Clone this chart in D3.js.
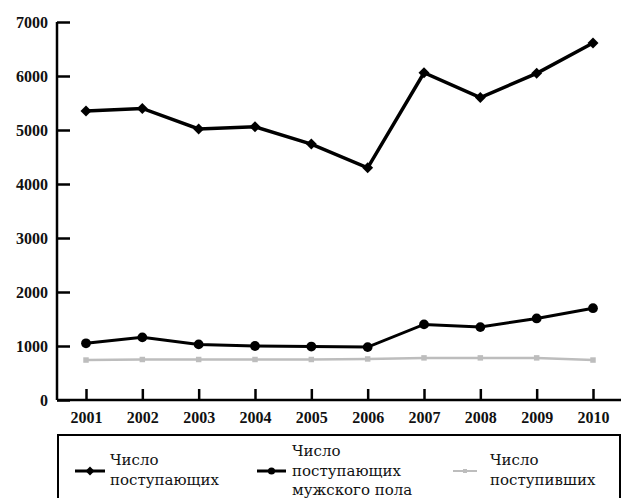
<!DOCTYPE html>
<html>
<head>
<meta charset="utf-8">
<script src="https://cdn.jsdelivr.net/npm/d3@7"></script>
<style>
  body { margin: 0; background: #fff; }
</style>
</head>
<body>
<div id="chart"></div>
<script>
// Data
var years = [2001, 2002, 2003, 2004, 2005, 2006, 2007, 2008, 2009, 2010];
var applicants = [5350, 5400, 5020, 5060, 4740, 4300, 6060, 5600, 6050, 6610];
var maleApplicants = [1050, 1160, 1030, 1000, 990, 980, 1400, 1350, 1510, 1700];
var admitted = [740, 750, 750, 750, 750, 760, 780, 780, 780, 740];
var yTicks = [0, 1000, 2000, 3000, 4000, 5000, 6000, 7000];

var tickFont = "'Liberation Serif', 'DejaVu Serif', serif";
var legendFont = "'DejaVu Serif', serif";

var svgWidth = 621, svgHeight = 498;
var svg = d3.select("#chart")
  .append("svg")
    .attr("width", svgWidth)
    .attr("height", svgHeight);

// Scales
var x = d3.scalePoint()
  .domain(years)
  .range([86, 593]);
var y = d3.scaleLinear()
  .domain([0, 7000])
  .range([400, 22]);

// Y axis, ticks pointing inward
var yAxis = svg.append("g")
  .attr("transform", "translate(57,0)")
  .call(d3.axisRight(y).tickValues(yTicks).tickSize(13).tickFormat(d3.format("d")))
  .attr("font-family", tickFont);
yAxis.select(".domain").attr("stroke-width", 2.5).attr("d", "M0," + y(7000) + "V" + y(0));
yAxis.selectAll(".tick line").attr("stroke-width", 2.5);
yAxis.selectAll(".tick text")
  .attr("x", -9)
  .attr("text-anchor", "end")
  .attr("font-size", 16)
  .attr("font-weight", "bold")
  .attr("fill", "#111");

// X axis, ticks pointing up
var xAxis = svg.append("g")
  .attr("transform", "translate(0,400)")
  .call(d3.axisTop(x).tickSize(11))
  .attr("font-family", tickFont);
xAxis.select(".domain").attr("stroke-width", 2.5).attr("d", "M57,0H621");
xAxis.selectAll(".tick line").attr("stroke-width", 2.5);
xAxis.selectAll(".tick text")
  .attr("y", 17)
  .attr("dy", "0.35em")
  .attr("font-size", 16)
  .attr("font-weight", "bold")
  .attr("fill", "#111");

var line = d3.line()
  .x((d, i) => x(years[i]))
  .y(d => y(d));

// rotated square for the diamond marker
var diamond = {
  draw: function (ctx, size) {
    var r = Math.sqrt(size / 2);
    ctx.moveTo(0, -r); ctx.lineTo(r, 0); ctx.lineTo(0, r); ctx.lineTo(-r, 0); ctx.closePath();
  }
};

// Series
var series = [
  { values: admitted, color: "#bdbdbd", width: 2.5, symbol: d3.symbolSquare, size: 30 },
  { values: maleApplicants, color: "#000", width: 3, symbol: d3.symbolCircle, size: 75 },
  { values: applicants, color: "#000", width: 3.5, symbol: diamond, size: 60 }
];

series.forEach(function (s) {
  svg.append("path")
    .attr("fill", "none")
    .attr("stroke", s.color)
    .attr("stroke-width", s.width)
    .attr("d", line(s.values));
  svg.append("g")
    .selectAll("path")
    .data(s.values)
    .join("path")
      .attr("transform", (d, i) => "translate(" + x(years[i]) + "," + y(d) + ")")
      .attr("d", d3.symbol().type(s.symbol).size(s.size))
      .attr("fill", s.color);
});

// Legend
svg.append("rect")
  .attr("x", 58)
  .attr("y", 435)
  .attr("width", 562)
  .attr("height", 100)
  .attr("fill", "none")
  .attr("stroke", "#000")
  .attr("stroke-width", 2);

var legendItems = [
  { lines: ["Число", "поступающих"], x1: 75, x2: 105, tx: 110, ty: 460, color: "#000", symbol: diamond, size: 40, width: 3 },
  { lines: ["Число", "поступающих", "мужского пола"], x1: 257, x2: 286, tx: 292, ty: 451, color: "#000", symbol: d3.symbolCircle, size: 40, width: 3 },
  { lines: ["Число", "поступивших"], x1: 453, x2: 477, tx: 490, ty: 460, color: "#bdbdbd", symbol: d3.symbolSquare, size: 16, width: 2 }
];

legendItems.forEach(function (item) {
  var g = svg.append("g").attr("font-family", legendFont);
  g.append("line")
    .attr("x1", item.x1).attr("x2", item.x2)
    .attr("y1", 471).attr("y2", 471)
    .attr("stroke", item.color)
    .attr("stroke-width", item.width);
  g.append("path")
    .attr("transform", "translate(" + (item.x1 + item.x2) / 2 + ",471)")
    .attr("d", d3.symbol().type(item.symbol).size(item.size))
    .attr("fill", item.color);
  item.lines.forEach(function (t, i) {
    g.append("text")
      .attr("x", item.tx)
      .attr("y", item.ty + i * 19.5)
      .attr("dy", "0.35em")
      .attr("font-size", 15)
      .attr("fill", "#111")
      .text(t);
  });
});
</script>
</body>
</html>
